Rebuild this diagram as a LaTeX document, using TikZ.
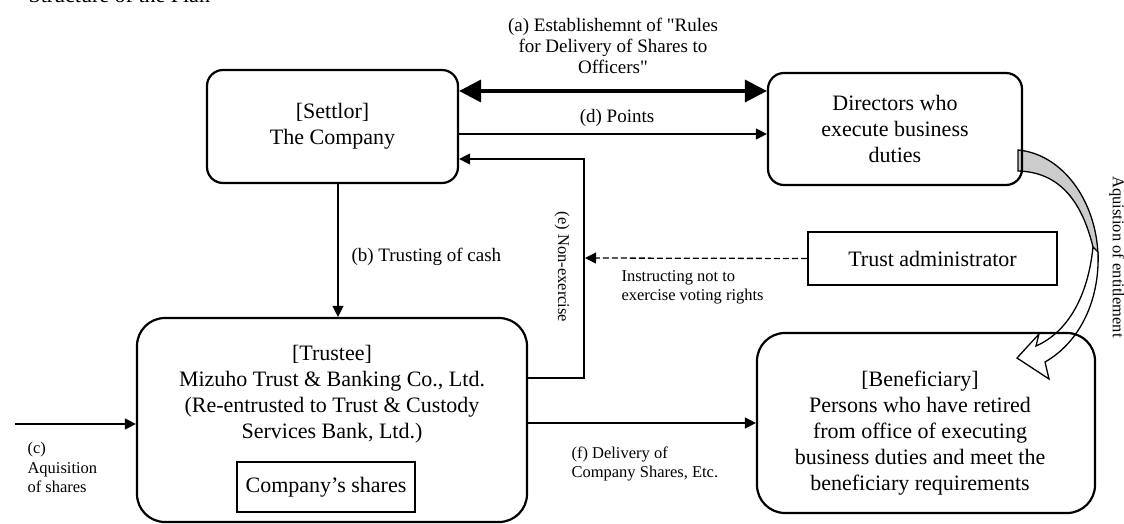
\documentclass[tikz,border=0pt]{standalone}
\usepackage{fontspec}
\setmainfont{Liberation Serif}
\usetikzlibrary{arrows.meta}
\begin{document}
\begin{tikzpicture}
    [x=1pt,y=-1pt,
     bigtext/.style={font=\fontsize{22}{26}\selectfont,align=center},
     roundbox/.style={draw,line width=2.2pt,rounded corners=16pt,bigtext},
     flatbox/.style={draw,line width=2.2pt,bigtext},
     lab/.style={font=\fontsize{19}{21}\selectfont,align=center},
     smalllab/.style={font=\fontsize{16.5}{19.5}\selectfont,align=left},
     flow/.style={line width=1.3pt,-{Triangle[length=11pt,width=11pt]}}]
    \useasboundingbox (0,0) rectangle (1124,524);
    \node[anchor=base west,bigtext] (title) at (25,2.5) {Structure of the Plan};
    % the curved block arrow behind the boxes
    \fill[gray!40,draw=black,line width=1.3pt] (1018,150) .. controls (1062,154) and (1096,200) .. (1098,255)
      -- (1093,247) .. controls (1082,202) and (1060,172) .. (1018,171) -- cycle;
    \filldraw[fill=white,line width=1.3pt] (1098,252) .. controls (1100,300) and (1080,342) .. (1045,362)
      -- (1049,379) -- (1017,358) -- (1039,334) -- (1036,346)
      .. controls (1068,332) and (1088,296) .. (1093,247) -- cycle;
    \node[smalllab,rotate=-90] (entlab) at (1117,257) {Aquistion of entitlement};
    \node[roundbox,minimum width=251pt,minimum height=113pt] (settlor) at (332.5,126.5) {[Settlor]\\The Company};
    \node[roundbox,minimum width=254pt,minimum height=112pt] (directors) at (895,129) {Directors who\\execute business\\duties};
    \node[roundbox,rounded corners=28pt,minimum width=390pt,minimum height=204pt] (trustee) at (332,420) {};
    \node[bigtext] (trusteetxt) at (332,394) {[Trustee]\\Mizuho Trust \& Banking Co., Ltd.\\(Re-entrusted to Trust \& Custody\\Services Bank, Ltd.)};
    \node[flatbox,minimum width=178pt,minimum height=50pt] (shares) at (326,487) {Company's shares};
    \node[roundbox,rounded corners=28pt,minimum width=338pt,minimum height=180pt] (benef) at (926,423) {};
    \node[bigtext] (beneftxt) at (920,433.5) {[Beneficiary]\\Persons who have retired\\from office of executing\\business duties and meet the\\beneficiary requirements};
    \node[flatbox,minimum width=249pt,minimum height=53pt] (admin) at (932.5,258.5) {Trust administrator};
    % labels
    \node[lab] (alab) at (613,46) {(a) Establishemnt of \textquotedbl Rules\\for Delivery of Shares to\\Officers\textquotedbl};
    \node[lab] (dlab) at (617,118) {(d) Points};
    \node[lab,anchor=west] (blab) at (348,257) {(b) Trusting of cash};
    \node[smalllab,rotate=-90] (elab) at (562,267) {(e) Non-exercise};
    \node[smalllab,anchor=north west] (instr) at (618,267) {Instructing not to\\exercise voting rights};
    \node[smalllab,anchor=north west] (clab) at (24,439) {(c)\\Aquisition\\of shares};
    \node[smalllab,anchor=north west] (flab) at (568,443) {(f) Delivery of\\Company Shares, Etc.};
    % connectors
    \draw[line width=3.5pt,{Triangle[length=22pt,width=22pt]}-{Triangle[length=22pt,width=22pt]}]
      (settlor.east |- 0,91) -- (directors.west |- 0,91);
    \draw[flow] (settlor.east |- 0,134) -- (directors.west |- 0,134);
    \draw[flow] ([xshift=5.5pt]settlor.south) -- ([xshift=6pt]trustee.north);
    \draw[flow] (trustee.east |- 0,378) -- (584,378) -- (584,159) -- (settlor.east |- 0,159);
    \coordinate (ehit) at (585,258);
    \draw[flow,dashed,dash pattern=on 6pt off 3pt] (admin.west) -- (ehit);
    \coordinate (cstart) at (15,424);
    \draw[flow] (cstart) -- (trustee.west |- cstart);
    \draw[flow] (trustee.east |- 0,423) -- (benef.west |- 0,423);
\end{tikzpicture}
\end{document}
